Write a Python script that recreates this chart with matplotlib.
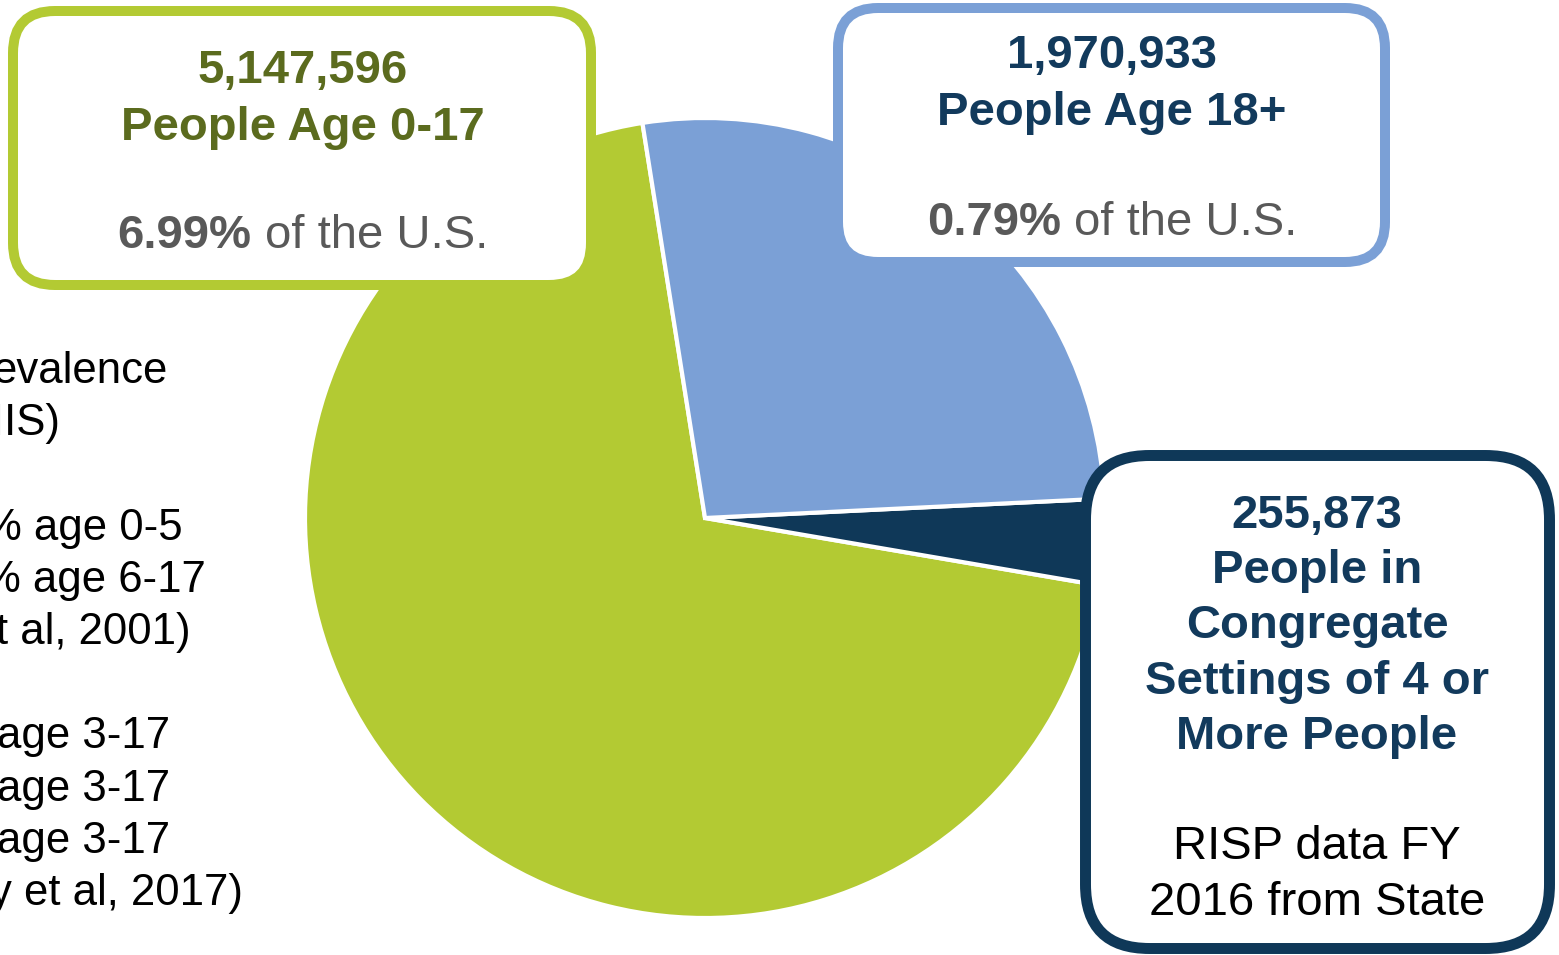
import matplotlib
matplotlib.use("Agg")
import matplotlib.pyplot as plt
from matplotlib.patches import FancyBboxPatch

plt.rcParams['font.family'] = ['Liberation Sans', 'DejaVu Sans']

# data
groups = ["People Age 0-17", "People Age 18+", "People in Congregate Settings of 4 or More People"]
people = [5147596, 1970933, 255873]
us_share = ["6.99%", "0.79%", None]
slice_colors = ["#B3CA33", "#7BA0D6", "#0F3858"]

left_lines = ["evalence", "IIS)", "", "% age 0-5", "% age 6-17", "t al, 2001)", "",
              "age 3-17", "age 3-17", "age 3-17", "y et al, 2017)"]
congregate_lines = ["255,873", "People in", "Congregate", "Settings of 4 or", "More People"]
source_lines = ["RISP data FY", "2016 from State"]

W, H = 1559, 955
fig = plt.figure(figsize=(W / 100, H / 100), dpi=100)
ax = fig.add_axes([0, 0, 1, 1])

# pie (drawn green, navy, blue going counter-clockwise)
order = [0, 2, 1]
ax.pie([people[i] for i in order], colors=[slice_colors[i] for i in order],
       startangle=99.0, counterclock=True, center=(705, H - 518), radius=400,
       wedgeprops=dict(edgecolor="white", linewidth=3))
ax.set_xlim(0, W)
ax.set_ylim(0, H)
ax.set_aspect("equal")
ax.axis("off")


def box(x0, y0, x1, y1, color, lw, r):
    # screen px (y down) -> data
    p = FancyBboxPatch((x0, H - y1), x1 - x0, y1 - y0,
                       boxstyle=f"round,pad=0,rounding_size={r}",
                       facecolor="white", edgecolor=color, linewidth=lw, zorder=5)
    ax.add_patch(p)


box(13, 11, 591, 285, "#B3CA33", 7.2, 42)
box(838, 8, 1385, 262, "#7BA0D6", 7.2, 40)
box(1085.5, 455.5, 1549.5, 948.5, "#0F3858", 7.9, 64)

green_txt = "#5B6B1E"
navy_txt = "#123A5C"
gray_txt = "#595959"
fs = 34


def line(x, y, s, color, bold=True, size=fs, ha="center"):
    return ax.text(x, H - y, s, color=color, fontsize=size, ha=ha, va="baseline",
                   fontweight="bold" if bold else "normal", zorder=6)


def mixed(xc, y, b, r, color, size=fs):
    t1 = line(0, y, b, color, True, size, ha="left")
    t2 = line(0, y, r, color, False, size, ha="left")
    fig.canvas.draw()
    w1 = t1.get_window_extent().width
    w2 = t2.get_window_extent().width
    sp = 0.278 * size * 100 / 72
    x0 = xc - (w1 + sp + w2) / 2
    t1.set_x(x0)
    t2.set_x(x0 + w1 + sp)


# age 0-17 box
line(303, 83, f"{people[0]:,}", green_txt)
line(303, 140, groups[0], green_txt)
mixed(303, 248, us_share[0], "of the U.S.", gray_txt)

# age 18+ box
line(1112, 68, f"{people[1]:,}", navy_txt)
line(1112, 125, groups[1], navy_txt)
mixed(1112, 235, us_share[1], "of the U.S.", gray_txt)

# congregate box
for i, s in enumerate(congregate_lines):
    line(1317, 528 + i * 55.2, s, navy_txt)
for i, s in enumerate(source_lines):
    line(1317, 859 + i * 56, s, "black", bold=False)

# left text (cut off at the edge, as in the original slide)
ends = [168, 60, 0, 183, 206, 191, 0, 170, 170, 170, 243]
for i, s in enumerate(left_lines):
    if s:
        line(ends[i], 383 + i * 52.2, s, "black", bold=False, size=31.5, ha="right")

fig.savefig("out.png", dpi=100)
